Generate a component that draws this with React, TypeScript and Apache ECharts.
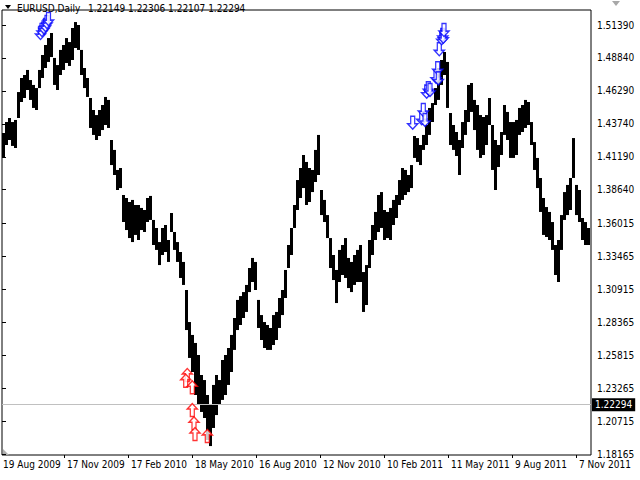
import React, { useEffect, useRef } from "react";
import * as echarts from "echarts";

// EURUSD daily, grouped 3 trading days per bar (high / low)
const highs = [
  1.4303, 1.4388, 1.4419, 1.4388, 1.4404, 1.4620, 1.4729, 1.4752, 1.4791, 1.4713,
  1.4675, 1.4651, 1.4791, 1.4907, 1.4984, 1.5038, 1.5077, 1.4884, 1.4829, 1.4946,
  1.4984, 1.5038, 1.5007, 1.5116, 1.5162, 1.5139, 1.4946, 1.4806, 1.4729, 1.4574,
  1.4481, 1.4442, 1.4481, 1.4520, 1.4582, 1.4559, 1.4249, 1.4172, 1.4017, 1.4032,
  1.3823, 1.3800, 1.3769, 1.3785, 1.3746, 1.3746, 1.3723, 1.3707, 1.3800, 1.3816,
  1.3630, 1.3568, 1.3459, 1.3568, 1.3591, 1.3475, 1.3684, 1.3537, 1.3459, 1.3382,
  1.3305, 1.3088, 1.2840, 1.2740, 1.2678, 1.2585, 1.2430, 1.2391, 1.2275, 1.2198,
  1.2353, 1.2430, 1.2391, 1.2546, 1.2585, 1.2639, 1.2740, 1.2871, 1.3011, 1.3041,
  1.3072, 1.3127, 1.3258, 1.3336, 1.3305, 1.3011, 1.2894, 1.2840, 1.2817, 1.2794,
  1.2894, 1.2918, 1.3026, 1.3088, 1.3243, 1.3436, 1.3568, 1.3746, 1.3939, 1.4032,
  1.4133, 1.4079, 1.4032, 1.4017, 1.4172, 1.4288, 1.3862, 1.3785, 1.3668, 1.3490,
  1.3359, 1.3243, 1.3398, 1.3436, 1.3490, 1.3336, 1.3305, 1.3359, 1.3398, 1.3436,
  1.3227, 1.3281, 1.3475, 1.3591, 1.3692, 1.3823, 1.3846, 1.3707, 1.3692, 1.3723,
  1.3785, 1.3823, 1.3939, 1.4032, 1.4017, 1.3978, 1.4055, 1.4280, 1.4264, 1.4210,
  1.4288, 1.4365, 1.4497, 1.4535, 1.4651, 1.4806, 1.4868, 1.4930, 1.4853, 1.4458,
  1.4365, 1.4311, 1.4249, 1.4388, 1.4481, 1.4675, 1.4690, 1.4559, 1.4520, 1.4442,
  1.4427, 1.4442, 1.4574, 1.4365, 1.4249, 1.4210, 1.4311, 1.4520, 1.4466, 1.4388,
  1.4388, 1.4404, 1.4497, 1.4520, 1.4559, 1.4543, 1.4388, 1.4233, 1.4110, 1.3955,
  1.3800, 1.3730, 1.3692, 1.3614, 1.3436, 1.3475, 1.3668, 1.3846, 1.3901, 1.3955,
  1.4264, 1.3901, 1.3862, 1.3645, 1.3614, 1.3568,
];
const lows = [
  1.4110, 1.4210, 1.4249, 1.4203, 1.4187, 1.4419, 1.4543, 1.4574, 1.4636, 1.4559,
  1.4497, 1.4481, 1.4651, 1.4729, 1.4806, 1.4853, 1.4891, 1.4675, 1.4636, 1.4752,
  1.4791, 1.4845, 1.4822, 1.4868, 1.4961, 1.4946, 1.4752, 1.4651, 1.4582, 1.4342,
  1.4288, 1.4249, 1.4280, 1.4326, 1.4365, 1.4342, 1.4055, 1.3978, 1.3862, 1.3877,
  1.3614, 1.3552, 1.3490, 1.3459, 1.3514, 1.3475, 1.3552, 1.3537, 1.3614, 1.3630,
  1.3436, 1.3398, 1.3281, 1.3359, 1.3382, 1.3305, 1.3537, 1.3398, 1.3305, 1.3181,
  1.3127, 1.2778, 1.2562, 1.2453, 1.2275, 1.2198, 1.2144, 1.2097, 1.1927, 1.1880,
  1.2020, 1.2120, 1.2198, 1.2237, 1.2275, 1.2353, 1.2453, 1.2624, 1.2778, 1.2817,
  1.2871, 1.2918, 1.3072, 1.3150, 1.3088, 1.2794, 1.2701, 1.2639, 1.2624, 1.2624,
  1.2662, 1.2701, 1.2794, 1.2894, 1.3026, 1.3258, 1.3359, 1.3568, 1.3707, 1.3800,
  1.3877, 1.3746, 1.3769, 1.3846, 1.3924, 1.3978, 1.3668, 1.3614, 1.3490, 1.3258,
  1.3165, 1.2987, 1.3150, 1.3204, 1.3181, 1.3103, 1.3072, 1.3127, 1.3150, 1.3150,
  1.2918, 1.2972, 1.3258, 1.3359, 1.3475, 1.3537, 1.3568, 1.3475, 1.3490, 1.3475,
  1.3591, 1.3645, 1.3746, 1.3785, 1.3823, 1.3846, 1.3877, 1.4110, 1.4079, 1.4055,
  1.4172, 1.4210, 1.4288, 1.4388, 1.4520, 1.4559, 1.4675, 1.4752, 1.4497, 1.4210,
  1.4172, 1.4125, 1.3978, 1.4187, 1.4288, 1.4388, 1.4466, 1.4326, 1.4172, 1.4110,
  1.4133, 1.4210, 1.4365, 1.4017, 1.3862, 1.4040, 1.4133, 1.4288, 1.4249, 1.4110,
  1.4110, 1.4133, 1.4288, 1.4311, 1.4342, 1.4365, 1.4210, 1.4017, 1.3877, 1.3692,
  1.3514, 1.3498, 1.3475, 1.3398, 1.3204, 1.3150, 1.3398, 1.3630, 1.3668, 1.3707,
  1.3955, 1.3668, 1.3614, 1.3475, 1.3436, 1.3436,
];
const daysPerBar = 3;

const dateLabels = [
  "19 Aug 2009", "17 Nov 2009", "17 Feb 2010", "18 May 2010", "16 Aug 2010",
  "12 Nov 2010", "10 Feb 2011", "11 May 2011", "9 Aug 2011", "7 Nov 2011",
];
const daysPerDateLabel = 64;

const priceTicks = [
  1.5139, 1.4884, 1.4629, 1.4374, 1.4119, 1.3864, 1.36015,
  1.33465, 1.30915, 1.28365, 1.25815, 1.23265, 1.20715, 1.18165,
];

const symbolName = "EURUSD,Daily";
const lastQuote = [1.22149, 1.22306, 1.22107, 1.22294];
const bidPrice = 1.22294;

// signal arrows: [trading day, price]
const sellSignals = [
  [38.5, 1.5077], [40, 1.51], [42, 1.512], [43.5, 1.5139], [45, 1.5162], [46.5, 1.5185],
  [410.7, 1.4383], [419.7, 1.4417], [421.3, 1.4481], [423, 1.4404],
  [424.7, 1.4623], [426.3, 1.4649], [428, 1.4636],
  [434, 1.4739], [435.7, 1.4804], [436.3, 1.4726],
  [437.3, 1.4951], [439.7, 1.5036], [440.7, 1.5062], [441.3, 1.5048], [442, 1.51],
];
const buySignals = [
  [185.3, 1.243], [183.7, 1.2386], [190.3, 1.2335], [190.3, 1.2159],
  [192, 1.2056], [193, 1.1973], [205.3, 1.1958],
];

const FONT = "'DejaVu Sans Condensed', 'Liberation Sans', sans-serif";
const UP = "path://M5,0 L10,5 L7,5 L7,12 L3,12 L3,5 L0,5 Z";
const DOWN = "path://M3,0 L7,0 L7,7 L10,7 L5,12 L0,7 L3,7 Z";

export default function App() {
  const ref = useRef<HTMLDivElement>(null);
  useEffect(() => {
    const chart = echarts.init(ref.current!, null, { renderer: "svg" });
    const bars = highs.map((h, i) => [i * daysPerBar + daysPerBar / 2, h, lows[i]]);
    const totalDays = 589;
    const labelDays = dateLabels.map((_, k) => k * daysPerDateLabel + 1);
    const tickDays = dateLabels.map((_, k) => k * daysPerDateLabel - 2).filter((d) => d > 0);

    chart.setOption({
      animation: false,
      backgroundColor: "#ffffff",
      grid: {
        left: 2,
        right: 49,
        top: 10,
        bottom: 25,
        show: true,
        borderColor: "#000000",
        borderWidth: 1,
        backgroundColor: "#ffffff",
      },
      xAxis: {
        type: "value",
        min: 0,
        max: totalDays,
        axisLine: { show: false },
        splitLine: { show: false },
        axisTick: {
          show: true,
          customValues: tickDays,
          length: 3,
          lineStyle: { color: "#000" },
        },
        axisLabel: {
          customValues: labelDays,
          align: "left",
          margin: 4,
          color: "#000",
          fontSize: 10,
          fontFamily: FONT,
          formatter: (v: number) => dateLabels[Math.round((v - 1) / daysPerDateLabel)] ?? "",
        },
      },
      yAxis: {
        type: "value",
        position: "right",
        min: 1.18108,
        max: 1.52551,
        scale: true,
        axisLine: { show: false },
        splitLine: { show: false },
        axisTick: {
          show: true,
          customValues: priceTicks,
          length: 4,
          lineStyle: { color: "#000" },
        },
        axisLabel: {
          customValues: priceTicks,
          margin: 6,
          color: "#000",
          fontSize: 10,
          fontFamily: FONT,
          formatter: (v: number) => v.toFixed(5),
        },
      },
      series: [
        {
          type: "custom",
          clip: true,
          data: bars,
          encode: { x: 0, y: [1, 2] },
          renderItem: (params: any, api: any) => {
            const x = api.value(0);
            const top = api.coord([x, api.value(1)]);
            const bot = api.coord([x, api.value(2)]);
            const w = api.size([daysPerBar, 0])[0];
            return {
              type: "rect",
              shape: {
                x: top[0] - w / 2,
                y: top[1],
                width: w,
                height: Math.max(1, bot[1] - top[1]),
              },
              style: { fill: "#000000" },
            };
          },
          markLine: {
            silent: true,
            symbol: ["none", "none"],
            lineStyle: { color: "#c0c0c0", type: "solid", width: 1 },
            label: {
              show: true,
              position: "end",
              distance: 1,
              formatter: bidPrice.toFixed(5),
              color: "#ffffff",
              backgroundColor: "#000000",
              padding: [2, 3, 1, 3],
              fontSize: 10,
              fontFamily: FONT,
            },
            data: [{ yAxis: bidPrice }],
          },
        },
        {
          type: "scatter",
          data: buySignals,
          symbol: UP,
          symbolSize: [10, 13],
          itemStyle: { color: "#ffffff", borderColor: "#ff0000", borderWidth: 1.4 },
          z: 5,
        },
        {
          type: "scatter",
          data: sellSignals,
          symbol: DOWN,
          symbolSize: [10, 13],
          itemStyle: { color: "#ffffff", borderColor: "#0000ff", borderWidth: 1.4 },
          z: 5,
        },
      ],
      graphic: [
        { type: "polygon", shape: { points: [[5, 5], [11, 5], [8, 9]] }, style: { fill: "#000" } },
        {
          type: "text",
          x: 17,
          y: 8,
          style: { text: symbolName, fill: "#000", fontSize: 10, fontFamily: FONT, textVerticalAlign: "middle" },
        },
        {
          type: "text",
          x: 88,
          y: 8,
          style: {
            text: lastQuote.map((q) => q.toFixed(5)).join(" "),
            fill: "#000",
            fontSize: 10,
            fontFamily: FONT,
            textVerticalAlign: "middle",
          },
        },
        { type: "polygon", shape: { points: [[612, 1], [620, 1], [616, 6]] }, style: { fill: "#a8a8a8" } },
        { type: "polygon", shape: { points: [[3, 449], [3, 455], [9, 455]] }, style: { fill: "#b0b0b0" } },
      ],
    });
    return () => chart.dispose();
  }, []);
  return (
    <div
      ref={ref}
      style={{ position: "fixed", left: 0, top: 0, width: 640, height: 480 }}
    />
  );
}
